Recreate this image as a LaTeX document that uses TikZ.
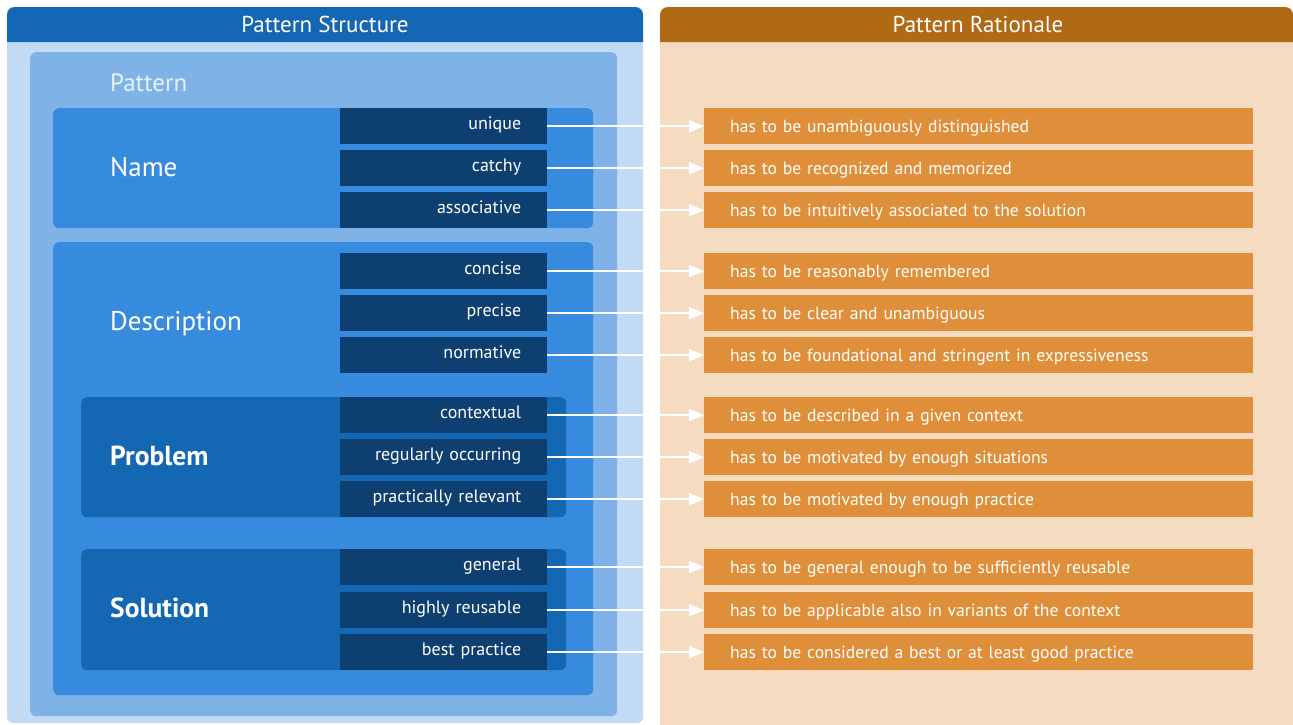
\documentclass[tikz,border=0pt]{standalone}
\usepackage{fontspec}
\setmainfont{PT Sans}
\usetikzlibrary{arrows.meta,positioning}
\definecolor{structhead}{HTML}{1467B2}
\definecolor{structbody}{HTML}{C2DBF4}
\definecolor{patternfill}{HTML}{7FB3E8}
\definecolor{patterntext}{HTML}{E8F1FB}
\definecolor{outerfill}{HTML}{378BDE}
\definecolor{innerfill}{HTML}{1467B2}
\definecolor{qualfill}{HTML}{0E3F71}
\definecolor{ratiohead}{HTML}{B06A16}
\definecolor{ratiobody}{HTML}{F5DCC0}
\definecolor{ratiofill}{HTML}{DF8F39}
\tikzset{
  headtext/.style={anchor=base, text=white, inner sep=0pt, font=\fontsize{23}{26}\selectfont},
  groupbox/.style={anchor=north west, rounded corners=6pt, inner sep=0pt},
  grouptext/.style={anchor=base west, text=white, inner sep=0pt, font=\fontsize{27}{30}\selectfont},
  quality/.style={anchor=north west, fill=qualfill, text=white, minimum width=207pt, minimum height=36pt,
    text width=155pt, align=right, inner xsep=26pt, inner ysep=0pt, text height=12pt, text depth=6pt,
    font=\fontsize{18}{20}\selectfont},
  rationale/.style={anchor=north west, fill=ratiofill, text=white, minimum width=549pt, minimum height=36pt,
    text width=497pt, align=left, inner xsep=26pt, inner ysep=0pt, text height=14pt, text depth=2pt,
    font=\fontsize{17.6}{20}\selectfont},
  link/.style={white, line width=2pt, -{Triangle[length=15pt,width=12pt]}},
}
\begin{document}
\begin{tikzpicture}[x=1pt,y=-1pt]
  \useasboundingbox (0,0) rectangle (1293,724);
  \clip (0,0) rectangle (1293,724);
  \fill[white] (0,0) rectangle (1293,724);

  % structure panel
  \fill[structbody, rounded corners=6pt] (7,7) rectangle (643,723);
  \fill[structhead] (7,42) [rounded corners=8pt] -- (7,7) -- (643,7) [sharp corners] -- (643,42) -- cycle;
  \node[headtext] (structtitle) at (325,32) {Pattern Structure};

  % rationale panel
  \fill[ratiobody, rounded corners=8pt] (660,7) rectangle (1293,740);
  \fill[ratiohead] (660,42) [rounded corners=8pt] -- (660,7) -- (1293,7) [sharp corners] -- (1293,42) -- cycle;
  \node[headtext] (ratiotitle) at (978,32) {Pattern Rationale};

  % nested parts of a pattern
  \node[groupbox, fill=patternfill, minimum width=587pt, minimum height=664pt] (pattern) at (30,52) {};
  \node[grouptext, text=patterntext, font=\fontsize{25}{30}\selectfont] (patternlabel) at (110,91) {Pattern};
  \node[groupbox, fill=outerfill, minimum width=540pt, minimum height=120pt] (name) at (53,108) {};
  \node[grouptext] (namelabel) at (110,176) {Name};
  \node[groupbox, fill=outerfill, minimum width=540pt, minimum height=453pt] (description) at (53,242) {};
  \node[grouptext] (descriptionlabel) at (110,330) {Description};
  \node[groupbox, fill=innerfill, minimum width=485pt, minimum height=120pt] (problem) at (81,397) {};
  \node[grouptext, font=\fontsize{27.5}{30}\selectfont\bfseries] (problemlabel) at (110,465) {Problem};
  \node[groupbox, fill=innerfill, minimum width=485pt, minimum height=121pt] (solution) at (81,549) {};
  \node[grouptext, font=\fontsize{27.5}{30}\selectfont\bfseries] (solutionlabel) at (110,617) {Solution};

  % qualities and their rationale
  \foreach \i/\top/\qual/\why in {
      1/108/unique/has to be unambiguously distinguished,
      2/150/catchy/has to be recognized and memorized,
      3/192/associative/has to be intuitively associated to the solution,
      4/253/concise/has to be reasonably remembered,
      5/295/precise/has to be clear and unambiguous,
      6/337/normative/has to be foundational and stringent in expressiveness,
      7/397/contextual/has to be described in a given context,
      8/439/regularly occurring/has to be motivated by enough situations,
      9/481/practically relevant/has to be motivated by enough practice,
      10/549/general/has to be general enough to be sufficiently reusable,
      11/592/highly reusable/has to be applicable also in variants of the context,
      12/634/best practice/has to be considered a best or at least good practice}{
    \node[quality] (q\i) at (340,\top) {\qual};
    \node[rationale] (r\i) at (704,\top) {\why};
    \draw[link] (q\i) -- (r\i);
  }
\end{tikzpicture}
\end{document}
